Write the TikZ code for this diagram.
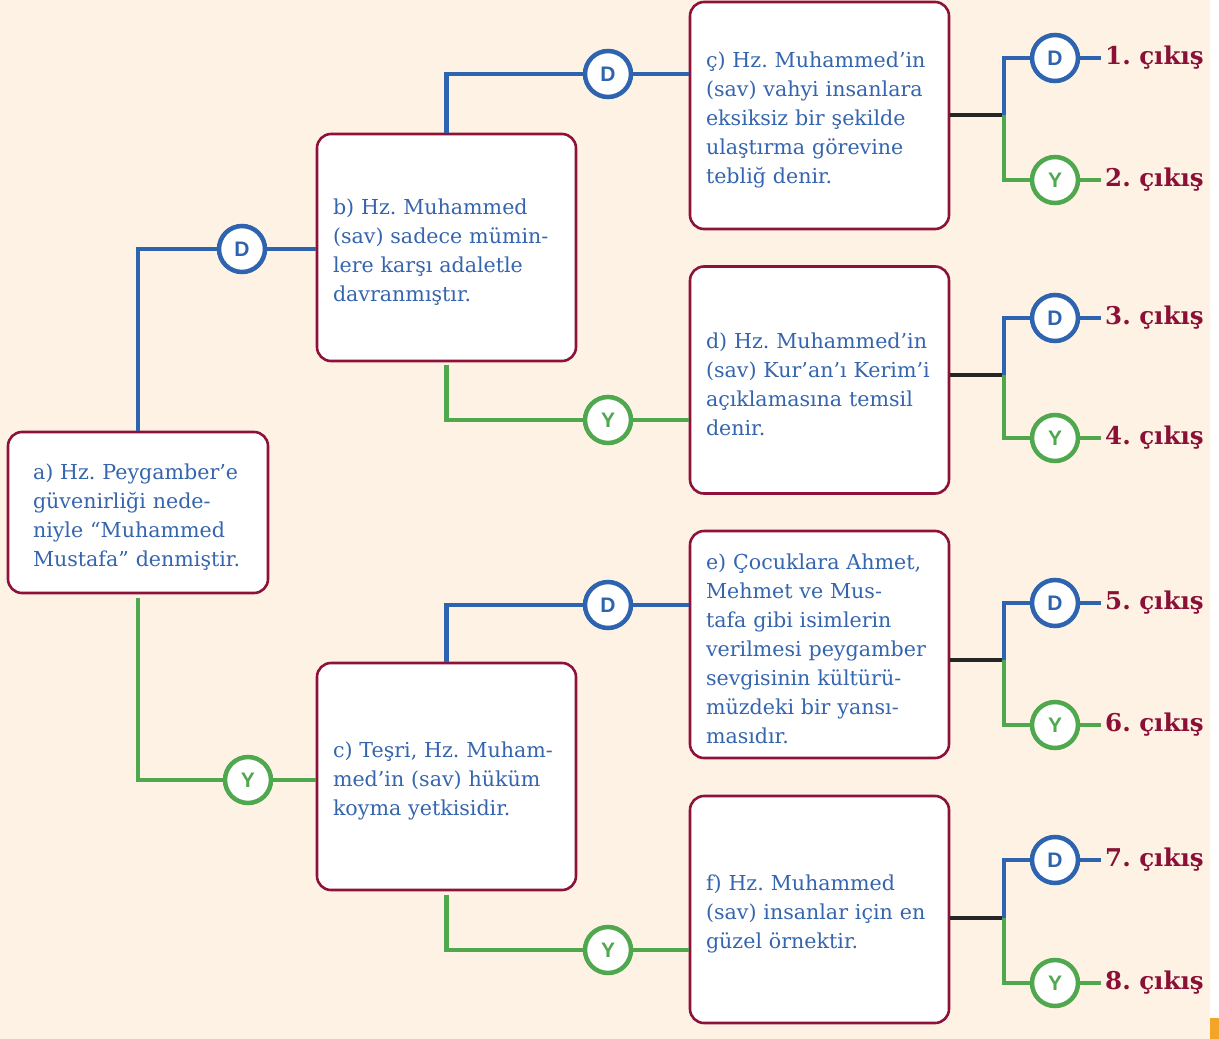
\documentclass[tikz,border=0pt]{standalone}
\usepackage{fontspec}
\setmainfont{DejaVu Serif}
\newfontfamily\circfont{Liberation Sans}
\definecolor{bgcream}{HTML}{FDF2E3}
\definecolor{boxred}{HTML}{8C1239}
\definecolor{lblue}{HTML}{2D63AF}
\definecolor{lgreen}{HTML}{4FA84E}
\definecolor{txtblue}{HTML}{3565AE}
\definecolor{exitred}{HTML}{8A1038}
\definecolor{barorange}{HTML}{F3A52A}
\frenchspacing

\begin{document}
\begin{tikzpicture}[x=1pt, y=-1pt,
    box/.style={draw=boxred, line width=2.6pt, fill=white, rounded corners=14pt,
        minimum width=259pt, minimum height=227pt, inner sep=0pt, text width=227pt,
        text=txtblue, align=left, font=\fontsize{20.6}{29}\selectfont,
        execute at begin node=\rule{0pt}{25pt}},
    dcirc/.style={circle, draw=lblue, line width=4.5pt, fill=white, minimum size=46pt,
        inner sep=0pt, text=lblue, font=\circfont\bfseries\fontsize{21}{21}\selectfont},
    ycirc/.style={dcirc, draw=lgreen, text=lgreen},
    bl/.style={draw=lblue, line width=4.5pt},
    gl/.style={draw=lgreen, line width=4.5pt},
    kl/.style={draw=black!85, line width=4.5pt},
    exit/.style={anchor=west, inner sep=0pt, inner xsep=4pt, text=exitred,
        font=\bfseries\fontsize{24.5}{24.5}\selectfont}]
\useasboundingbox (0,0) rectangle (1219,1039);
\fill[bgcream] (0,0) rectangle (1210,1039);
\fill[white] (1210,0) rectangle (1219,1018);
\fill[barorange] (1210,1018) rectangle (1219,1039);

% kutular
\node[box, minimum width=260pt, minimum height=161pt, text width=210pt] (a) at (138,512.5)
    {a) Hz. Peygamber’e\\güvenirliği nede-\\niyle “Muhammed\\Mustafa” denmiştir.};
\node[box] (b) at (446.5,247.5)
    {b) Hz. Muhammed\\(sav) sadece mümin-\\lere karşı adaletle\\davranmıştır.};
\node[box] (c) at (446.5,776.5)
    {c) Teşri, Hz. Muham-\\med’in (sav) hüküm\\koyma yetkisidir.};
\node[box] (cc) at (819.5,115.5)
    {ç) Hz. Muhammed’in\\(sav) vahyi insanlara\\eksiksiz bir şekilde\\ulaştırma görevine\\tebliğ denir.};
\node[box] (d) at (819.5,380)
    {d) Hz. Muhammed’in\\(sav) Kur’an’ı Kerim’i\\açıklamasına temsil\\denir.};
\node[box] (e) at (819.5,644.5)
    {e) Çocuklara Ahmet,\\Mehmet ve Mus-\\tafa gibi isimlerin\\verilmesi peygamber\\sevgisinin kültürü-\\müzdeki bir yansı-\\masıdır.};
\node[box] (f) at (819.5,909.5)
    {f) Hz. Muhammed\\(sav) insanlar için en\\güzel örnektir.};

% D / Y
\node[dcirc] (dB) at (242,249) {D};
\node[ycirc] (yC) at (248,780) {Y};
\node[dcirc] (dCc) at (608,74) {D};
\node[ycirc] (yD) at (608,420) {Y};
\node[dcirc] (dE) at (608,605) {D};
\node[ycirc] (yF) at (608,950) {Y};

\draw[bl] (a.north) |- (dB.west); \draw[bl] (dB.east) -- (dB.east -| b.west);
\draw[gl, shorten <=4pt] (a.south) |- (yC.west); \draw[gl] (yC.east) -- (yC.east -| c.west);
\draw[bl] (b.north) |- (dCc.west); \draw[bl] (dCc.east) -- (dCc.east -| cc.west);
\draw[gl, shorten <=3pt] (b.south) |- (yD.west); \draw[gl] (yD.east) -- (yD.east -| d.west);
\draw[bl] (c.north) |- (dE.west); \draw[bl] (dE.east) -- (dE.east -| e.west);
\draw[gl, shorten <=4pt] (c.south) |- (yF.west); \draw[gl] (yF.east) -- (yF.east -| f.west);

% cikislar
\coordinate (j1) at (1004,115);
\coordinate (j2) at (1004,375);
\coordinate (j3) at (1004,660);
\coordinate (j4) at (1004,918);
\node[dcirc] (d1) at (1055,58) {D};  \node[exit] (out1) at (1101,58) {1. çıkış};
\node[ycirc] (y2) at (1055,180) {Y}; \node[exit] (out2) at (1101,180) {2. çıkış};
\node[dcirc] (d3) at (1055,318) {D}; \node[exit] (out3) at (1101,318) {3. çıkış};
\node[ycirc] (y4) at (1055,438) {Y}; \node[exit] (out4) at (1101,438) {4. çıkış};
\node[dcirc] (d5) at (1055,603) {D}; \node[exit] (out5) at (1101,603) {5. çıkış};
\node[ycirc] (y6) at (1055,725) {Y}; \node[exit] (out6) at (1101,725) {6. çıkış};
\node[dcirc] (d7) at (1055,860) {D}; \node[exit] (out7) at (1101,860) {7. çıkış};
\node[ycirc] (y8) at (1055,983) {Y}; \node[exit] (out8) at (1101,983) {8. çıkış};

\draw[kl] (cc.east |- j1) -- (j1);
\draw[bl] (j1) |- (d1.west); \draw[bl] (d1) -- (out1.west);
\draw[gl] (j1) |- (y2.west); \draw[gl] (y2) -- (out2.west);
\draw[kl] (d.east |- j2) -- (j2);
\draw[bl] (j2) |- (d3.west); \draw[bl] (d3) -- (out3.west);
\draw[gl] (j2) |- (y4.west); \draw[gl] (y4) -- (out4.west);
\draw[kl] (e.east |- j3) -- (j3);
\draw[bl] (j3) |- (d5.west); \draw[bl] (d5) -- (out5.west);
\draw[gl] (j3) |- (y6.west); \draw[gl] (y6) -- (out6.west);
\draw[kl] (f.east |- j4) -- (j4);
\draw[bl] (j4) |- (d7.west); \draw[bl] (d7) -- (out7.west);
\draw[gl] (j4) |- (y8.west); \draw[gl] (y8) -- (out8.west);
\end{tikzpicture}
\end{document}
